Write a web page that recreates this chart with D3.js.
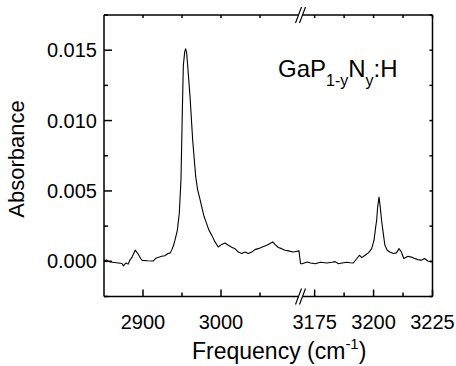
<!DOCTYPE html>
<html>
<head>
<meta charset="utf-8">
<script src="https://cdn.jsdelivr.net/npm/d3@7"></script>
<style>
  html, body { margin: 0; padding: 0; background: #fff; }
  svg { display: block; }
  text { font-family: "Liberation Sans", Arial, sans-serif; fill: #000; }
</style>
</head>
<body>
<svg id="chart" width="456" height="366"></svg>
<script>
// ---- data ----
const leftFreq = [2850, 2853, 2858, 2866, 2873, 2875, 2878, 2881, 2883, 2886, 2890, 2894, 2897, 2899, 2906, 2913, 2917, 2921, 2924, 2928, 2932, 2935, 2937, 2939, 2941, 2944, 2946.5, 2948.7, 2950.4, 2951.7, 2953.5, 2954.7, 2956, 2957.3, 2960.3, 2963.7, 2967.6, 2970, 2973.1, 2976, 2978.2, 2980.8, 2984.6, 2988.1, 2992.3, 2996.5, 3000.9, 3005.1, 3009.4, 3013.7, 3017.9, 3022.2, 3026.5, 3030.8, 3035, 3039.4, 3043.6, 3047.8, 3052.2, 3058.6, 3062.8, 3066.3, 3069.2, 3073.5, 3077.8, 3082, 3086.3, 3092.7, 3096, 3100];
const leftAbs  = [0.00005, 0.0001, -0.00005, -0.0001, -0.00015, -0.00033, -0.00012, -0.0002, 0.00007, 0.0003, 0.00079, 0.0005, 0.0002, 0.00007, 0.00004, 0.00002, 0.00024, 0.0003, 0.00036, 0.0004, 0.00055, 0.0006, 0.00083, 0.0011, 0.0015, 0.0022, 0.0034, 0.0058, 0.0106, 0.0139, 0.0149, 0.0151, 0.0148, 0.0139, 0.0117, 0.0086, 0.0060, 0.0051, 0.0044, 0.0037, 0.0032, 0.0028, 0.0022, 0.00186, 0.00138, 0.00102, 0.0012, 0.0013, 0.00114, 0.001, 0.0009, 0.00066, 0.00055, 0.00066, 0.00055, 0.00066, 0.00083, 0.0009, 0.001, 0.00114, 0.00126, 0.00138, 0.0012, 0.00098, 0.0009, 0.00079, 0.00074, 0.00066, 0.0007, 0.00074];
const rightFreq = [3169, 3169.7, 3171.8, 3173.2, 3175.3, 3177.4, 3180.2, 3182.3, 3183.7, 3185.1, 3186.6, 3188.7, 3190.1, 3191.4, 3192.9, 3194.0, 3195.0, 3196.4, 3197.8, 3199.2, 3200.2, 3200.9, 3201.3, 3201.7, 3202.3, 3202.8, 3203.4, 3204.1, 3204.8, 3205.8, 3206.9, 3208.3, 3209.7, 3210.8, 3211.8, 3212.8, 3214.6, 3216.7, 3218.8, 3220.3, 3221.6, 3223.0, 3224.5, 3225];
const rightAbs  = [-0.00017, -0.00017, -0.00005, -0.00012, -0.00017, -0.00007, -0.00012, -0.00007, -0.00002, -0.00017, -0.00012, -0.00007, -0.0001, -0.00012, 0.0002, 0.00043, 0.00026, 0.00043, 0.0006, 0.0009, 0.0015, 0.00245, 0.0029, 0.0038, 0.00457, 0.0039, 0.0029, 0.002, 0.00114, 0.00079, 0.00066, 0.00055, 0.0006, 0.0009, 0.00066, 0.0002, 0.00036, 0.00026, 0.00012, 0.00007, 0.0002, 0.00002, -0.00005, -0.00005];

const yDomain = [-0.0025, 0.0175];
const yMajorTicks = [0, 0.005, 0.010, 0.015];
const yMinorTicks = [-0.0025, 0.0025, 0.0075, 0.0125, 0.0175];
const leftDomain = [2850, 3100];
const rightDomain = [3169, 3225];
const xMajorLeft = [2900, 3000];
const xMinorLeft = [2950, 3050];
const xMajorRight = [3175, 3200, 3225];
const xMinorRight = [3187.5, 3212.5];
const xTitle = "Frequency (cm";
const xTitleSup = "-1";
const yTitle = "Absorbance";

// ---- layout ----
const L = 104, R = 432.5, T = 15, B = 296.5, BRK = 300;
const svg = d3.select("#chart");

const y = d3.scaleLinear().domain(yDomain).range([B, T]);
const xl = d3.scaleLinear().domain(leftDomain).range([L, BRK - 1]);
const xr = d3.scaleLinear().domain(rightDomain).range([BRK + 0.5, R]);
const xAny = f => f <= leftDomain[1] ? xl(f) : xr(f);

// ---- data line (continuous across break) ----
const pts = leftFreq.map((f, i) => [f, leftAbs[i]]).concat(rightFreq.map((f, i) => [f, rightAbs[i]]));
const line = d3.line().x(d => xAny(d[0])).y(d => y(d[1])).curve(d3.curveLinear);
svg.append("path").datum(pts)
  .attr("d", line).attr("fill", "none").attr("stroke", "#000")
  .attr("stroke-width", 1.1).attr("stroke-linejoin", "round");

const ax = svg.append("g").attr("stroke", "#000").attr("stroke-width", 1.5).attr("fill", "none");

// left & right axes
ax.append("line").attr("x1", L).attr("x2", L).attr("y1", T).attr("y2", B);
ax.append("line").attr("x1", R).attr("x2", R).attr("y1", T).attr("y2", B);
// top & bottom axes with break gap
[T, B].forEach(yy => {
  ax.append("line").attr("x1", L).attr("x2", 298.5).attr("y1", yy).attr("y2", yy);
  ax.append("line").attr("x1", 302.5).attr("x2", R).attr("y1", yy).attr("y2", yy);
  [298.5, 302.5].forEach(cx => {
    ax.append("line").attr("x1", cx - 3).attr("y1", yy + 8).attr("x2", cx + 3).attr("y2", yy - 8)
      .attr("stroke-width", 1.2);
  });
});

// y ticks
yMajorTicks.forEach(v => {
  ax.append("line").attr("x1", L).attr("x2", L + 8).attr("y1", y(v)).attr("y2", y(v));
  ax.append("line").attr("x1", R).attr("x2", R - 3).attr("y1", y(v)).attr("y2", y(v));
});
yMinorTicks.forEach(v => {
  ax.append("line").attr("x1", L).attr("x2", L + 4).attr("y1", y(v)).attr("y2", y(v));
  ax.append("line").attr("x1", R).attr("x2", R - 3).attr("y1", y(v)).attr("y2", y(v));
});
// x ticks
const majX = xMajorLeft.map(xl).concat(xMajorRight.map(xr));
const minX = xMinorLeft.map(xl).concat(xMinorRight.map(xr));
majX.forEach(px => {
  ax.append("line").attr("x1", px).attr("x2", px).attr("y1", B).attr("y2", B - 7);
  ax.append("line").attr("x1", px).attr("x2", px).attr("y1", T).attr("y2", T + 3);
});
minX.forEach(px => {
  ax.append("line").attr("x1", px).attr("x2", px).attr("y1", B).attr("y2", B - 4);
  ax.append("line").attr("x1", px).attr("x2", px).attr("y1", T).attr("y2", T + 3);
});

// tick labels
const fmtY = d3.format(".3f");
svg.append("g").selectAll("text").data(yMajorTicks).join("text")
  .attr("x", 97).attr("y", d => y(d)).attr("dy", "0.35em")
  .attr("text-anchor", "end").attr("font-size", 20).text(fmtY);

const xLabels = xMajorLeft.map(v => [xl(v), v]).concat(xMajorRight.map(v => [xr(v), v]));
svg.append("g").selectAll("text").data(xLabels).join("text")
  .attr("x", d => d[0]).attr("y", 328.5)
  .attr("text-anchor", "middle").attr("font-size", 20).text(d => d[1]);

// axis titles
const xt = svg.append("text").attr("x", 192).attr("y", 359).attr("font-size", 23);
xt.append("tspan").text(xTitle);
xt.append("tspan").attr("dy", -10).attr("font-size", 15).text(xTitleSup);
xt.append("tspan").attr("dy", 10).text(")");

svg.append("text").attr("transform", "translate(24,159) rotate(-90)")
  .attr("text-anchor", "middle").attr("font-size", 22).text(yTitle);

// annotation
const an = svg.append("text").attr("x", 278).attr("y", 77).attr("font-size", 24);
an.append("tspan").text("GaP");
an.append("tspan").attr("dy", 9).attr("font-size", 16).text("1-y");
an.append("tspan").attr("dy", -9).text("N");
an.append("tspan").attr("dy", 9).attr("font-size", 16).text("y");
an.append("tspan").attr("dy", -9).text(":H");
</script>
</body>
</html>
